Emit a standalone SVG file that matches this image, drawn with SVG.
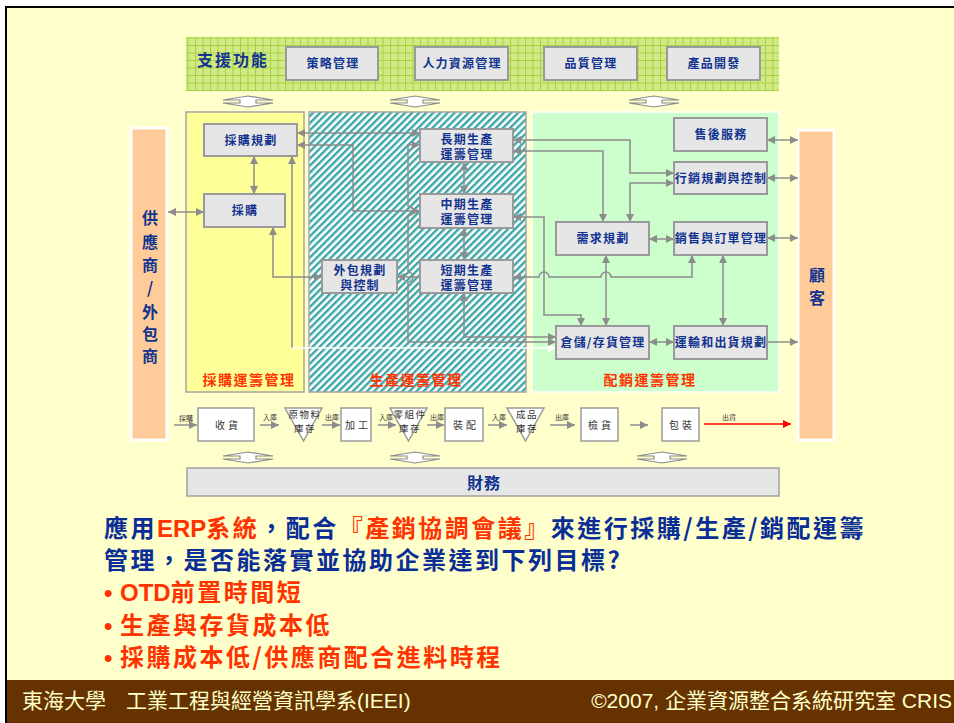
<svg xmlns="http://www.w3.org/2000/svg" width="954" height="723" viewBox="0 0 954 723">
<style>
.cj{font-family:"Noto Sans CJK TC","Noto Sans CJK SC",sans-serif}
.bt{font-family:"Noto Sans CJK TC","Noto Sans CJK SC",sans-serif;font-weight:700;font-size:12px;fill:#12338F;text-anchor:middle;letter-spacing:1.2px}
.box{fill:#E6E6E6;stroke:#9A9A9A;stroke-width:2}
.fbox{fill:#FFFFFF;stroke:#9A9A9A;stroke-width:1.5}
.ft{font-family:"Noto Sans CJK TC","Noto Sans CJK SC",sans-serif;font-size:10px;fill:#333;text-anchor:middle;letter-spacing:3px}
.tt{font-family:"Noto Sans CJK TC","Noto Sans CJK SC",sans-serif;font-size:9.5px;fill:#333;text-anchor:middle;letter-spacing:1.5px}
.sm{font-family:"Noto Sans CJK TC","Noto Sans CJK SC",sans-serif;font-size:7px;fill:#333;text-anchor:middle}
.c{fill:none;stroke:#8C8C8C;stroke-width:1.5}
.ud{fill:#FFFFFF;stroke:#8C8C8C;stroke-width:1.2}
.lab{font-family:"Noto Sans CJK TC","Noto Sans CJK SC",sans-serif;font-weight:700;font-size:14px;fill:#FF3300;text-anchor:middle;letter-spacing:1.5px}
.vt{font-family:"Noto Sans CJK TC","Noto Sans CJK SC",sans-serif;font-weight:700;font-size:16px;fill:#12338F;text-anchor:middle}
.bl{fill:#0A2E96}
.rd{fill:#FF3300}
.ftr{font-family:"Liberation Sans","Noto Sans CJK TC",sans-serif;font-size:21px;fill:#FFFFCC}
</style>
<defs>
<marker id="ah" viewBox="0 0 10 10" refX="10" refY="5" markerWidth="9" markerHeight="8" markerUnits="userSpaceOnUse" orient="auto-start-reverse"><path d="M0,0 L10,5 L0,10 z" fill="#8C8C8C"/></marker>
<marker id="ahw" viewBox="0 0 10 10" refX="10" refY="5" markerWidth="9" markerHeight="8" markerUnits="userSpaceOnUse" orient="auto-start-reverse"><path d="M0,0 L10,5 L0,10 z" fill="#FFFFFF"/></marker>
<marker id="ahr" viewBox="0 0 10 10" refX="10" refY="5" markerWidth="9" markerHeight="8" markerUnits="userSpaceOnUse" orient="auto-start-reverse"><path d="M0,0 L10,5 L0,10 z" fill="#FF0000"/></marker>
<pattern id="hatch" width="5" height="5" patternUnits="userSpaceOnUse" patternTransform="rotate(45)"><rect width="5" height="5" fill="#FFFFFF"/><rect width="2.4" height="5" fill="#3BA6A6"/></pattern>
<pattern id="grid" width="7.5" height="7.5" patternUnits="userSpaceOnUse"><rect width="7.5" height="7.5" fill="#D2EA86"/><path d="M0,0.5 H7.5 M0.5,0 V7.5" stroke="#A6D03E" stroke-width="1"/></pattern>
<polygon id="udarrow" class="ud" points="0,-5.5 25,-1.5 8,-1.5 8,1.5 25,1.5 0,5.5 -25,1.5 -8,1.5 -8,-1.5 -25,-1.5"/>
</defs>

<rect x="0" y="0" width="954" height="723" fill="#FFFFFF"/>
<rect x="6" y="7" width="950" height="720" fill="#FFFFCC" stroke="#000000" stroke-width="2"/>

<g id="support-bar">
<rect x="186" y="37" width="593" height="54" fill="url(#grid)"/>
<text x="197" y="66" class="cj" font-weight="700" font-size="16" fill="#12338F" letter-spacing="2">支援功能</text>
</g>
<g id="strategy"><rect class="box" x="286" y="47" width="92" height="33"/><text class="bt" x="333" y="68">策略管理</text></g>
<g id="hr"><rect class="box" x="415" y="47" width="93" height="33"/><text class="bt" x="462" y="68">人力資源管理</text></g>
<g id="quality"><rect class="box" x="544" y="47" width="93" height="33"/><text class="bt" x="591" y="68">品質管理</text></g>
<g id="rnd"><rect class="box" x="667" y="47" width="93" height="33"/><text class="bt" x="714" y="68">產品開發</text></g>

<g id="ud-arrows">
<use href="#udarrow" x="248" y="101.5"/>
<use href="#udarrow" x="415" y="101.5"/>
<use href="#udarrow" x="654" y="101.5"/>
<use href="#udarrow" x="248" y="457.5"/>
<use href="#udarrow" x="415" y="457.5"/>
<use href="#udarrow" x="662" y="457.5"/>
</g>

<g id="supplier">
<rect x="131" y="128" width="36" height="312" fill="#FFCC99" stroke="#FFFFFF" stroke-width="3"/>
<text class="vt" x="150" y="224">供</text>
<text class="vt" x="150" y="248">應</text>
<text class="vt" x="150" y="271">商</text>
<text class="vt" x="150" y="294">/</text>
<text class="vt" x="150" y="318">外</text>
<text class="vt" x="150" y="340">包</text>
<text class="vt" x="150" y="362">商</text>
</g>
<g id="customer">
<rect x="798" y="130" width="36" height="310" fill="#FFCC99" stroke="#FFFFFF" stroke-width="3"/>
<text class="vt" x="817" y="281">顧</text>
<text class="vt" x="817" y="304">客</text>
</g>

<g id="procurement-area">
<rect x="186" y="112" width="118" height="280" fill="#FFFF99" stroke="#A6A6A6" stroke-width="1.5"/>
<text class="lab" x="249" y="385">採購運籌管理</text>
</g>
<g id="production-area">
<rect x="309" y="112" width="217" height="280" fill="url(#hatch)" stroke="#A6A6A6" stroke-width="1.5"/>
<text class="lab" x="416" y="385">生產運籌管理</text>
</g>
<g id="distribution-area">
<rect x="532" y="112" width="247" height="280" fill="#CCFFCC" stroke="#FFFFFF" stroke-width="1.5"/>
<text class="lab" x="650" y="385">配銷運籌管理</text>
</g>

<g id="connectors">
<path class="c" d="M254,156 V194" marker-start="url(#ah)" marker-end="url(#ah)"/>
<path class="c" d="M168,212 H204" marker-start="url(#ah)" marker-end="url(#ah)"/>
<path class="c" d="M273,227 V277 H322" marker-start="url(#ah)" marker-end="url(#ah)"/>
<path class="c" d="M292,156 V348" marker-start="url(#ah)"/>
<path d="M292,348 H556" fill="none" stroke="#FFFFFF" stroke-width="1.5" marker-end="url(#ahw)"/>
<path class="c" d="M297,133 H420" marker-start="url(#ah)" marker-end="url(#ah)"/>
<path class="c" d="M297,145 H353 V211 H420" marker-start="url(#ah)" marker-end="url(#ah)"/>
<path class="c" d="M420,145 H408 V206 A5,5 0 0 1 408,216 V272 A5,5 0 0 1 408,282 V342 H556" marker-start="url(#ah)" marker-end="url(#ah)"/>
<path class="c" d="M420,277 H397" marker-end="url(#ah)"/>
<path class="c" d="M464,162 V194" marker-start="url(#ah)" marker-end="url(#ah)"/>
<path class="c" d="M464,228 V260" marker-start="url(#ah)" marker-end="url(#ah)"/>
<path class="c" d="M464,293 V337 H556" marker-start="url(#ah)" marker-end="url(#ah)"/>
<path class="c" d="M513,140 H630 V173 H674" marker-start="url(#ah)" marker-end="url(#ah)"/>
<path class="c" d="M513,151 H603 V222" marker-start="url(#ah)" marker-end="url(#ah)"/>
<path class="c" d="M674,183 H630 V222" marker-start="url(#ah)" marker-end="url(#ah)"/>
<path class="c" d="M513,217 H544 V315 H581 V326" marker-start="url(#ah)" marker-end="url(#ah)"/>
<path class="c" d="M513,277 H539 A5,5 0 0 1 549,277 H601 A5,5 0 0 1 611,277 H692 V255" marker-start="url(#ah)" marker-end="url(#ah)"/>
<path class="c" d="M606,255 V326" marker-start="url(#ah)" marker-end="url(#ah)"/>
<path class="c" d="M649,239 H674" marker-start="url(#ah)" marker-end="url(#ah)"/>
<path class="c" d="M649,342 H674" marker-start="url(#ah)" marker-end="url(#ah)"/>
<path class="c" d="M723,255 V326" marker-start="url(#ah)" marker-end="url(#ah)"/>
<path class="c" d="M767,140 H798" marker-start="url(#ah)" marker-end="url(#ah)"/>
<path class="c" d="M767,178 H798" marker-start="url(#ah)" marker-end="url(#ah)"/>
<path class="c" d="M767,238 H798" marker-start="url(#ah)" marker-end="url(#ah)"/>
<path class="c" d="M767,342 H798" marker-end="url(#ah)"/>
<path class="c" d="M174,425 H197" marker-end="url(#ah)"/>
<path class="c" d="M260,425 H279" marker-end="url(#ah)"/>
<path class="c" d="M322,425 H340" marker-end="url(#ah)"/>
<path class="c" d="M378,425 H396" marker-end="url(#ah)"/>
<path class="c" d="M427,425 H444" marker-end="url(#ah)"/>
<path class="c" d="M488,425 H507" marker-end="url(#ah)"/>
<path class="c" d="M550,425 H575" marker-end="url(#ah)"/>
<path class="c" d="M630,425 H648" marker-end="url(#ah)"/>
<path d="M704,424 H791" fill="none" stroke="#FF0000" stroke-width="1.5" marker-end="url(#ahr)"/>
<text class="sm" x="186" y="421">採購</text>
<text class="sm" x="270" y="420">入庫</text>
<text class="sm" x="332" y="420">出庫</text>
<text class="sm" x="386" y="420">入庫</text>
<text class="sm" x="437" y="420">出庫</text>
<text class="sm" x="499" y="420">入庫</text>
<text class="sm" x="562" y="420">出庫</text>
<text class="sm" x="729" y="420">出貨</text>
</g>

<g id="purchase-plan"><rect class="box" x="204" y="124" width="93" height="32"/><text class="bt" x="251" y="145">採購規劃</text></g>
<g id="purchase"><rect class="box" x="204" y="194" width="81" height="33"/><text class="bt" x="245" y="215">採購</text></g>
<g id="long-term"><rect class="box" x="420" y="129" width="93" height="33"/><text class="bt" x="467" y="144">長期生產</text><text class="bt" x="467" y="159">運籌管理</text></g>
<g id="mid-term"><rect class="box" x="420" y="194" width="93" height="34"/><text class="bt" x="467" y="209">中期生產</text><text class="bt" x="467" y="224">運籌管理</text></g>
<g id="short-term"><rect class="box" x="420" y="260" width="93" height="33"/><text class="bt" x="467" y="275">短期生產</text><text class="bt" x="467" y="290">運籌管理</text></g>
<g id="outsourcing"><rect class="box" x="322" y="260" width="75" height="33"/><text class="bt" x="360" y="275">外包規劃</text><text class="bt" x="360" y="290">與控制</text></g>
<g id="after-sales"><rect class="box" x="674" y="118" width="93" height="33"/><text class="bt" x="721" y="139">售後服務</text></g>
<g id="marketing"><rect class="box" x="674" y="162" width="93" height="32"/><text class="bt" x="721" y="182.5" letter-spacing="0.6">行銷規劃與控制</text></g>
<g id="demand"><rect class="box" x="556" y="222" width="93" height="33"/><text class="bt" x="603" y="243">需求規劃</text></g>
<g id="sales-order"><rect class="box" x="674" y="222" width="93" height="33"/><text class="bt" x="721" y="243" letter-spacing="0.6">銷售與訂單管理</text></g>
<g id="inventory"><rect class="box" x="556" y="326" width="93" height="33"/><text class="bt" x="603" y="347">倉儲/存貨管理</text></g>
<g id="transport"><rect class="box" x="674" y="326" width="93" height="33"/><text class="bt" x="721" y="347" letter-spacing="0.6">運輸和出貨規劃</text></g>

<g id="receive"><rect class="fbox" x="198" y="408" width="56" height="33"/><text class="ft" x="228" y="429">收貨</text></g>
<g id="raw-stock"><polygon class="fbox" points="285,408 322,408 303.5,441"/><text class="tt" x="305" y="418">原物料</text><text class="tt" x="305" y="432">庫存</text></g>
<g id="process"><rect class="fbox" x="341" y="408" width="30" height="33"/><text class="ft" x="358" y="429">加工</text></g>
<g id="part-stock"><polygon class="fbox" points="390,408 427,408 408.5,441"/><text class="tt" x="410" y="418">零組件</text><text class="tt" x="410" y="432">庫存</text></g>
<g id="assembly"><rect class="fbox" x="445" y="408" width="38" height="33"/><text class="ft" x="466" y="429">裝配</text></g>
<g id="fg-stock"><polygon class="fbox" points="507,408 544,408 525.5,441"/><text class="tt" x="527" y="418">成品</text><text class="tt" x="527" y="432">庫存</text></g>
<g id="inspect"><rect class="fbox" x="581" y="408" width="37" height="33"/><text class="ft" x="601" y="429">檢貨</text></g>
<g id="pack"><rect class="fbox" x="662" y="408" width="37" height="33"/><text class="ft" x="682" y="429">包裝</text></g>

<g id="finance">
<rect x="187" y="468" width="592" height="28" fill="#E6E6E6" stroke="#A0A0A0" stroke-width="1.5"/>
<text x="484" y="488.5" class="cj" font-weight="700" font-size="16" fill="#12338F" text-anchor="middle" letter-spacing="1">財務</text>
</g>

<g id="notes" class="cj" font-weight="700" font-size="24" letter-spacing="2.5">
<text x="104" y="537"><tspan class="bl">應用</tspan><tspan class="rd" font-family="Liberation Sans,sans-serif" letter-spacing="0">ERP</tspan><tspan class="rd">系統</tspan><tspan class="bl">，配合</tspan><tspan class="rd">『產銷協調會議』</tspan><tspan class="bl">來進行採購/生產/銷配運籌</tspan></text>
<text x="104" y="569" class="bl">管理，是否能落實並協助企業達到下列目標?</text>
<text x="104" y="601" class="rd"><tspan font-family="Liberation Sans,sans-serif">•</tspan><tspan x="120" font-family="Liberation Sans,sans-serif" letter-spacing="0">OTD</tspan><tspan>前置時間短</tspan></text>
<text x="104" y="634" class="rd"><tspan font-family="Liberation Sans,sans-serif">•</tspan><tspan x="120">生產與存貨成本低</tspan></text>
<text x="104" y="666" class="rd"><tspan font-family="Liberation Sans,sans-serif">•</tspan><tspan x="120">採購成本低/供應商配合進料時程</tspan></text>
</g>

<g id="footer">
<rect x="7" y="680" width="947" height="43" fill="#663300"/>
<text class="ftr" x="22" y="708">東海大學</text>
<text class="ftr" x="126" y="708">工業工程與經營資訊學系(IEEI)</text>
<text class="ftr" x="952" y="708" text-anchor="end">©2007, 企業資源整合系統研究室 CRIS</text>
</g>
</svg>
